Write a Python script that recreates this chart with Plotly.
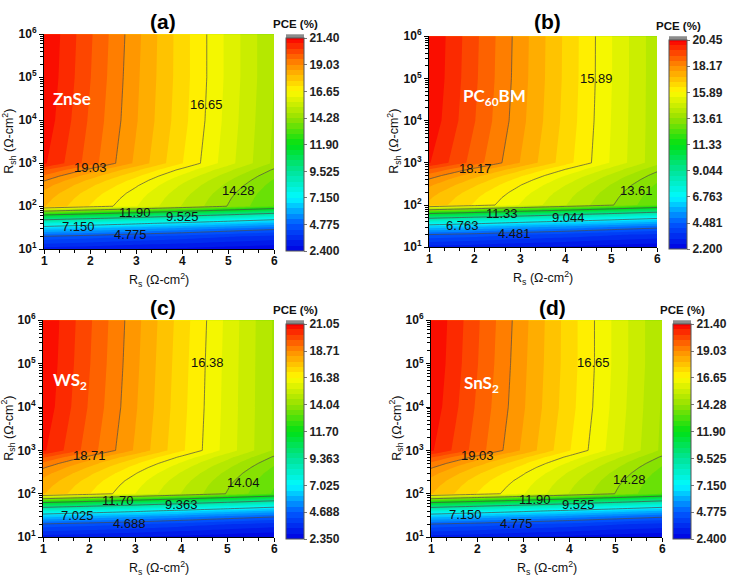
import plotly.graph_objects as go

# ---------------- data ----------------
rs = [1, 2, 3, 4, 5, 6]  # Rs (ohm-cm2)
rsh = [10, 20, 30, 40, 50, 60, 70, 80, 90, 100, 150, 200, 300, 400, 500, 700,
       1000, 1e4, 1e5, 1e6]  # Rsh (ohm-cm2)

# PCE (%) rows follow rsh, columns follow rs
pce_znse = [
    [3.10, 3.00, 2.85, 2.75, 2.60, 2.50],
    [4.77, 4.57, 4.33, 4.13, 3.89, 3.70],
    [6.43, 6.13, 5.82, 5.52, 5.19, 4.90],
    [8.10, 7.70, 7.30, 6.90, 6.48, 6.10],
    [9.77, 9.27, 8.78, 8.28, 7.78, 7.30],
    [11.43, 10.83, 10.27, 9.67, 9.07, 8.50],
    [13.10, 12.40, 11.75, 11.05, 10.37, 9.70],
    [14.77, 13.97, 13.23, 12.43, 11.66, 10.90],
    [16.43, 15.53, 14.72, 13.82, 12.96, 12.10],
    [18.10, 17.10, 16.20, 15.20, 14.25, 13.30],
    [18.26, 17.25, 16.33, 15.31, 14.34, 13.38],
    [18.42, 17.39, 16.45, 15.42, 14.43, 13.45],
    [18.74, 17.69, 16.70, 15.63, 14.62, 13.60],
    [19.07, 17.98, 16.95, 15.85, 14.80, 13.75],
    [19.39, 18.28, 17.20, 16.07, 14.98, 13.90],
    [20.03, 18.87, 17.70, 16.50, 15.35, 14.20],
    [21.00, 19.75, 18.45, 17.15, 15.90, 14.65],
    [21.25, 19.90, 18.60, 17.30, 16.00, 14.70],
    [21.35, 20.00, 18.65, 17.35, 16.05, 14.75],
    [21.40, 20.05, 18.70, 17.35, 16.05, 14.75],
]

pce_pcbm = [
    [2.90, 2.80, 2.65, 2.55, 2.40, 2.30],
    [4.48, 4.30, 4.07, 3.88, 3.65, 3.46],
    [6.07, 5.80, 5.48, 5.21, 4.90, 4.63],
    [7.65, 7.29, 6.90, 6.54, 6.15, 5.79],
    [9.24, 8.79, 8.32, 7.87, 7.40, 6.95],
    [10.82, 10.29, 9.73, 9.21, 8.65, 8.12],
    [12.41, 11.79, 11.15, 10.54, 9.90, 9.28],
    [13.99, 13.28, 12.57, 11.87, 11.15, 10.44],
    [15.58, 14.78, 13.98, 13.20, 12.40, 11.61],
    [17.16, 16.28, 15.40, 14.53, 13.65, 12.77],
    [17.32, 16.42, 15.53, 14.64, 13.75, 12.85],
    [17.48, 16.57, 15.66, 14.75, 13.84, 12.93],
    [17.80, 16.86, 15.91, 14.98, 14.03, 13.09],
    [18.12, 17.14, 16.17, 15.20, 14.23, 13.25],
    [18.44, 17.43, 16.42, 15.42, 14.42, 13.41],
    [19.07, 18.01, 16.93, 15.87, 14.80, 13.73],
    [20.03, 18.87, 17.70, 16.54, 15.38, 14.21],
    [20.33, 19.10, 17.87, 16.65, 15.42, 14.22],
    [20.42, 19.17, 17.93, 16.69, 15.45, 14.22],
    [20.45, 19.20, 17.95, 16.70, 15.45, 14.22],
]

pce_ws2 = [
    [3.00, 2.90, 2.80, 2.65, 2.50, 2.40],
    [4.65, 4.45, 4.26, 4.02, 3.78, 3.58],
    [6.29, 6.00, 5.71, 5.38, 5.05, 4.76],
    [7.94, 7.55, 7.17, 6.75, 6.33, 5.95],
    [9.58, 9.10, 8.62, 8.12, 7.61, 7.13],
    [11.23, 10.66, 10.08, 9.48, 8.88, 8.31],
    [12.87, 12.21, 11.53, 10.85, 10.16, 9.49],
    [14.52, 13.76, 12.99, 12.22, 11.44, 10.68],
    [16.16, 15.31, 14.44, 13.58, 12.71, 11.86],
    [17.81, 16.86, 15.90, 14.95, 13.99, 13.04],
    [17.97, 17.00, 16.03, 15.06, 14.08, 13.12],
    [18.13, 17.14, 16.15, 15.17, 14.18, 13.20],
    [18.45, 17.43, 16.41, 15.39, 14.37, 13.35],
    [18.76, 17.71, 16.66, 15.61, 14.56, 13.51],
    [19.08, 18.00, 16.91, 15.83, 14.75, 13.66],
    [19.72, 18.57, 17.42, 16.27, 15.12, 13.97],
    [20.67, 19.42, 18.18, 16.93, 15.69, 14.44],
    [20.92, 19.60, 18.30, 17.00, 15.72, 14.45],
    [21.00, 19.68, 18.36, 17.04, 15.74, 14.45],
    [21.05, 19.73, 18.41, 17.09, 15.77, 14.45],
]

pce_sns2 = [
    [3.10, 3.00, 2.85, 2.75, 2.60, 2.50],
    [4.77, 4.57, 4.33, 4.13, 3.89, 3.70],
    [6.43, 6.13, 5.82, 5.52, 5.19, 4.90],
    [8.10, 7.70, 7.30, 6.90, 6.48, 6.10],
    [9.77, 9.27, 8.78, 8.28, 7.78, 7.30],
    [11.43, 10.83, 10.27, 9.67, 9.07, 8.50],
    [13.10, 12.40, 11.75, 11.05, 10.37, 9.70],
    [14.77, 13.97, 13.23, 12.43, 11.66, 10.90],
    [16.43, 15.53, 14.72, 13.82, 12.96, 12.10],
    [18.10, 17.10, 16.20, 15.20, 14.25, 13.30],
    [18.26, 17.25, 16.33, 15.31, 14.34, 13.38],
    [18.42, 17.39, 16.45, 15.42, 14.43, 13.45],
    [18.74, 17.69, 16.70, 15.63, 14.62, 13.60],
    [19.07, 17.98, 16.95, 15.85, 14.80, 13.75],
    [19.39, 18.28, 17.20, 16.07, 14.98, 13.90],
    [20.03, 18.87, 17.70, 16.50, 15.35, 14.20],
    [21.00, 19.75, 18.45, 17.15, 15.90, 14.65],
    [21.25, 19.90, 18.60, 17.30, 16.00, 14.70],
    [21.35, 20.00, 18.65, 17.35, 16.05, 14.75],
    [21.40, 20.05, 18.70, 17.35, 16.05, 14.75],
]

# colour-bar ranges and tick labels (also the contour-line levels)
range_znse = [2.4, 21.4]
range_pcbm = [2.2, 20.45]
range_ws2 = [2.35, 21.05]
range_sns2 = [2.4, 21.4]
cb_labels_znse = ["2.400", "4.775", "7.150", "9.525", "11.90", "14.28", "16.65", "19.03", "21.40"]
cb_labels_pcbm = ["2.200", "4.481", "6.763", "9.044", "11.33", "13.61", "15.89", "18.17", "20.45"]
cb_labels_ws2 = ["2.350", "4.688", "7.025", "9.363", "11.70", "14.04", "16.38", "18.71", "21.05"]
cb_labels_sns2 = ["2.400", "4.775", "7.150", "9.525", "11.90", "14.28", "16.65", "19.03", "21.40"]

panel_letters = ["(a)", "(b)", "(c)", "(d)"]
materials = ["ZnSe", "PC<sub>60</sub>BM", "WS<sub>2</sub>", "SnS<sub>2</sub>"]
rs_ticks = [1, 2, 3, 4, 5, 6]
rsh_ticks = [10, 100, 1000, 1e4, 1e5, 1e6]
rsh_ticktext = ["10<sup>1</sup>", "10<sup>2</sup>", "10<sup>3</sup>", "10<sup>4</sup>",
                "10<sup>5</sup>", "10<sup>6</sup>"]

# ---------------- layout geometry (pixels) ----------------
W, H = 730, 585
def fx(x):
    return x / W
def fy(y):
    return 1 - y / H

geom = [
    dict(x0=44, x1=274, yt=26, yb=247, cb=286, mx=72, my=92, lx=163, ly=13),
    dict(x0=429, x1=657, yt=28, yb=245, cb=669, mx=494, my=90, lx=547, ly=13),
    dict(x0=43, x1=274, yt=320, yb=543, cb=286, mx=70, my=382, lx=163, ly=307),
    dict(x0=431, x1=662, yt=320, yb=543, cb=673, mx=482, my=386, lx=552, ly=307),
]

# contour-label placement (Rs, log10 Rsh) for levels 1..7 (lowest to highest)
label_pos = [
    [(2.87, 1.34), (1.74, 1.54), (4.02, 1.77), (2.98, 1.85), (5.22, 2.36), (4.54, 4.37), (2.0, 2.9)],
    [(2.87, 1.32), (1.74, 1.51), (4.07, 1.71), (2.6, 1.80), (5.56, 2.34), (4.68, 5.0), (2.01, 2.87)],
    [(2.88, 1.31), (1.74, 1.51), (4.0, 1.76), (2.62, 1.85), (5.33, 2.27), (4.57, 5.02), (2.01, 2.89)],
    [(2.86, 1.31), (1.74, 1.52), (4.2, 1.75), (3.26, 1.86), (5.3, 2.34), (4.52, 5.02), (2.0, 2.89)],
]

colorscale = [
    [0.0, "rgb(0,0,225)"],
    [0.125, "rgb(0,90,255)"],
    [0.25, "rgb(0,250,255)"],
    [0.375, "rgb(0,228,150)"],
    [0.5, "rgb(0,225,20)"],
    [0.625, "rgb(150,225,0)"],
    [0.75, "rgb(255,250,0)"],
    [0.875, "rgb(255,140,0)"],
    [1.0, "rgb(250,0,0)"],
]

datasets = [pce_znse, pce_pcbm, pce_ws2, pce_sns2]
ranges = [range_znse, range_pcbm, range_ws2, range_sns2]
cblabels = [cb_labels_znse, cb_labels_pcbm, cb_labels_ws2, cb_labels_sns2]

FONT = "Arial, Liberation Sans, sans-serif"
fig = go.Figure()
annotations = []
shapes = []
minor_y = [m * 10 ** e for e in range(1, 6) for m in range(2, 10)]

for i in range(4):
    g = geom[i]
    z = datasets[i]
    lo, hi = ranges[i]
    step = (hi - lo) / 8
    xa = "x" if i == 0 else f"x{i+1}"
    ya = "y" if i == 0 else f"y{i+1}"
    cb_top = g["yt"] + 4
    cb_bot = g["yb"] - 4
    fig.add_trace(go.Contour(
        x=rs, y=rsh, z=z, xaxis=xa, yaxis=ya,
        colorscale=colorscale, zmin=lo, zmax=hi,
        autocontour=False,
        contours=dict(start=lo, end=hi, size=(hi - lo) / 40, coloring="fill", showlines=False),
        line=dict(width=0, smoothing=0),
        colorbar=dict(
            x=fx(g["cb"]), xanchor="left", xpad=0, ypad=0,
            y=fy(cb_top), yanchor="top", lenmode="pixels", len=cb_bot - cb_top,
            thickness=18, outlinewidth=1, outlinecolor="#555",
            tickmode="array", tickvals=[lo + k * step for k in range(9)], ticktext=cblabels[i],
            ticks="outside", ticklen=3, tickcolor="#777",
            tickfont=dict(family=FONT, size=12, color="#222", weight="bold"),
        ),
        hoverinfo="skip",
    ))
    fig.add_trace(go.Contour(
        x=rs, y=rsh, z=z, xaxis=xa, yaxis=ya,
        autocontour=False, showscale=False,
        contours=dict(start=lo + step, end=hi - step * 0.5, size=step, coloring="none",
                      showlabels=False),
        line=dict(width=0.7, color="#4a4a4a", smoothing=0),
        hoverinfo="skip",
    ))
    # contour labels
    for k, (lxv, lyv) in enumerate(label_pos[i]):
        annotations.append(dict(text=cblabels[i][k + 1], x=lxv, y=lyv, xref=xa, yref=ya,
                                showarrow=False, xanchor="center", yanchor="middle",
                                font=dict(family=FONT, size=13, color="#111")))
    # x tick labels
    for t in rs_ticks:
        annotations.append(dict(text=str(t), x=t, y=fy(g["yb"] + 12), xref=xa, yref="paper",
                                showarrow=False, xanchor="center", yanchor="middle",
                                font=dict(family=FONT, size=12, color="#111", weight="bold")))
    # over/under boxes of the colour bar
    shapes.append(dict(type="rect", xref="paper", yref="paper",
                       x0=fx(g["cb"]), x1=fx(g["cb"] + 18), y0=fy(g["yt"]), y1=fy(cb_top),
                       fillcolor="#8c8c8c", line=dict(width=0)))
    shapes.append(dict(type="rect", xref="paper", yref="paper",
                       x0=fx(g["cb"]), x1=fx(g["cb"] + 18), y0=fy(g["yb"]), y1=fy(cb_bot),
                       fillcolor="#000000", line=dict(width=0)))

    axis_common = dict(showline=True, linecolor="black", linewidth=1, ticks="outside",
                       ticklen=4, tickcolor="black", mirror=False, showgrid=False, zeroline=False,
                       tickfont=dict(family=FONT, size=12, color="#111", weight="bold"))
    fig.layout[("xaxis" if i == 0 else f"xaxis{i+1}")] = dict(
        domain=[fx(g["x0"]), fx(g["x1"])], anchor=ya, range=[1, 6],
        tickmode="array", tickvals=rs_ticks, showticklabels=False,
        minor=dict(dtick=1 / 3, ticks="outside", ticklen=3, tickcolor="black"),
        **axis_common)
    fig.layout[("yaxis" if i == 0 else f"yaxis{i+1}")] = dict(
        domain=[fy(g["yb"]), fy(g["yt"])], anchor=xa, type="log", range=[1, 6],
        tickmode="array", tickvals=rsh_ticks, ticktext=rsh_ticktext,
        minor=dict(tickmode="array", tickvals=minor_y, ticks="outside", ticklen=3, tickcolor="black"),
        **axis_common)

    # texts
    annotations.append(dict(text=panel_letters[i], x=fx(g["lx"]), y=fy(g["ly"]), xref="paper",
                            yref="paper", showarrow=False, xanchor="center", yanchor="middle",
                            font=dict(family=FONT, size=21, color="black", weight="bold")))
    annotations.append(dict(text="PCE (%)", x=fx(g["cb"] + 9), y=fy(g["yt"] - 11), xref="paper",
                            yref="paper", showarrow=False, xanchor="center", yanchor="middle",
                            font=dict(family=FONT, size=11.5, color="#111", weight="bold")))
    annotations.append(dict(text=materials[i], x=fx(g["mx"]), y=fy(g["my"]), xref="paper",
                            yref="paper", showarrow=False, xanchor="center", yanchor="middle",
                            font=dict(family="Lato, Open Sans, sans-serif", size=17, color="white",
                                      weight="bold")))
    annotations.append(dict(text="R<sub>s</sub> (Ω-cm<sup>2</sup>)", x=fx((g["x0"] + g["x1"]) / 2),
                            y=fy(g["yb"] + 32), xref="paper", yref="paper", showarrow=False,
                            xanchor="center", yanchor="middle",
                            font=dict(family=FONT, size=12.5, color="#111")))
    annotations.append(dict(text="R<sub>sh</sub> (Ω-cm<sup>2</sup>)", x=fx(g["x0"] - 35),
                            y=fy((g["yt"] + g["yb"]) / 2), xref="paper", yref="paper",
                            showarrow=False, textangle=-90, xanchor="center", yanchor="middle",
                            font=dict(family=FONT, size=12.5, color="#111")))

fig.update_layout(
    width=W, height=H, margin=dict(l=0, r=0, t=0, b=0),
    paper_bgcolor="white", plot_bgcolor="white",
    showlegend=False, annotations=annotations, shapes=shapes,
    font=dict(family=FONT),
)

fig.write_html("out.html")
